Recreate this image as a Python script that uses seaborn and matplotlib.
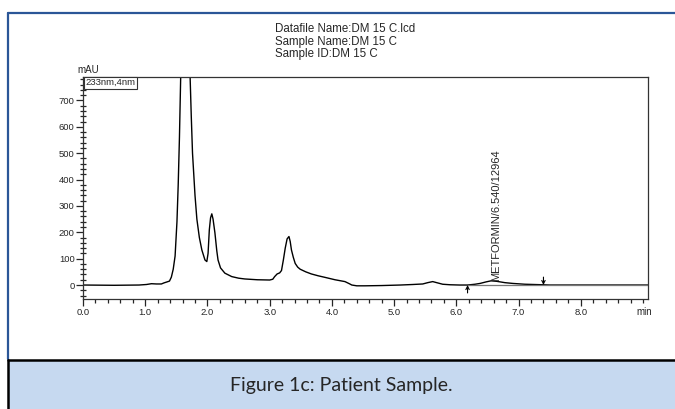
import matplotlib
matplotlib.use("Agg")
import matplotlib.pyplot as plt
import seaborn as sns
from matplotlib.ticker import MultipleLocator, FixedLocator
from matplotlib.lines import Line2D
from matplotlib.patches import Rectangle

# ---- data ----
time_min = [0.00, 0.50, 0.90, 1.02, 1.10, 1.18, 1.26, 1.30, 1.34, 1.39, 1.42, 1.45,
            1.48, 1.51, 1.53, 1.55, 1.57, 1.60, 1.645, 1.69, 1.72, 1.74, 1.76, 1.80,
            1.83, 1.87, 1.91, 1.96, 1.99, 2.01, 2.03, 2.05, 2.07, 2.09, 2.12, 2.15,
            2.17, 2.21, 2.28, 2.39, 2.50, 2.60, 2.80, 3.00, 3.05, 3.08, 3.12, 3.16,
            3.19, 3.22, 3.25, 3.28, 3.31, 3.33, 3.35, 3.38, 3.41, 3.45, 3.49, 3.58,
            3.67, 3.78, 3.89, 4.05, 4.21, 4.28, 4.32, 4.40, 4.53, 4.80, 5.10, 5.30,
            5.46, 5.54, 5.62, 5.70, 5.78, 5.90, 6.05, 6.18, 6.30, 6.38, 6.48, 6.56,
            6.65, 6.78, 6.91, 7.10, 7.39, 7.50, 9.08]
signal_mau = [0, -1, 0, 2, 5, 4, 4, 8, 11, 15, 30, 60,
              110, 240, 380, 560, 790, 1100, 1250, 1100, 800, 640, 500, 340,
              250, 180, 133, 95, 89, 120, 209, 255, 270, 250, 198, 130,
              95, 65, 45, 32, 26, 23, 20, 19, 22, 32, 42, 46,
              55, 95, 140, 175, 184, 165, 133, 105, 82, 68, 60, 50,
              42, 35, 29, 20, 13, 5, 0, -3, -3, -2, 0, 2,
              4, 9, 13, 8, 3, 1, 0, 0, 3, 6, 12, 16,
              14, 9, 6, 3, 1, 0, 0]

x_ticks = [0, 1, 2, 3, 4, 5, 6, 7, 8]
x_tick_labels = ["0.0", "1.0", "2.0", "3.0", "4.0", "5.0", "6.0", "7.0", "8.0"]
y_ticks = [0, 100, 200, 300, 400, 500, 600, 700]

header_lines = ["Datafile Name:DM 15 C.lcd", "Sample Name:DM 15 C", "Sample ID:DM 15 C"]
peak_label = "METFORMIN/6.540/12964"
peak_time, peak_height = 6.54, 16
integ_start, integ_end = 6.18, 7.40
caption = "Figure 1c: Patient Sample."

# ---- figure ----
sns.set_style("white")
plt.rcParams["font.family"] = ["Liberation Sans", "DejaVu Sans"]

W, H = 675, 409
fig = plt.figure(figsize=(W / 100, H / 100), dpi=100)
fig.patch.set_facecolor("white")

def fx(px):
    return px / W

def fy(py):
    return 1 - py / H

ax = fig.add_axes([fx(83), fy(299), fx(648) - fx(83), fy(77) - fy(299)])
sns.lineplot(x=time_min, y=signal_mau, ax=ax, color="black", lw=1.0,
             sort=False, estimator=None)
ax.set_xlim(0, 9.08)
ax.set_ylim(-53, 789)

for s in ax.spines.values():
    s.set_color("#333333")
    s.set_linewidth(0.9)

ax.xaxis.set_major_locator(FixedLocator(x_ticks))
ax.set_xticklabels(x_tick_labels)
ax.xaxis.set_minor_locator(MultipleLocator(0.2))
ax.yaxis.set_major_locator(FixedLocator(y_ticks))
ax.yaxis.set_minor_locator(MultipleLocator(20))
ax.tick_params(axis="x", which="major", direction="out", length=5, width=0.9,
               labelsize=6.8, pad=1.5, bottom=True)
ax.tick_params(axis="x", which="minor", direction="out", length=3, width=0.9, bottom=True)
ax.tick_params(axis="y", which="major", direction="out", length=5, width=0.9,
               labelsize=6.8, pad=1, left=True)
ax.tick_params(axis="y", which="minor", direction="inout", length=4, width=0.9, left=True)
ax.set_xlabel("")
ax.set_ylabel("")

# axis unit labels
fig.text(fx(77), fy(70), "mAU", fontsize=7, ha="left", va="center")
fig.text(fx(636), fy(312), "min", fontsize=7, ha="left", va="center")

# wavelength box
ax.text(0.004, 0.995, "233nm,4nm", transform=ax.transAxes, fontsize=6.8,
        ha="left", va="top",
        bbox=dict(boxstyle="square,pad=0.15", fc="white", ec="#333333", lw=0.8))

# integration baseline and markers
ax.plot([integ_start, 9.08], [0, 0], color="#777777", lw=0.9)
ax.annotate("", xy=(integ_start, 0), xytext=(integ_start, -30),
            arrowprops=dict(arrowstyle="->", color="black", lw=0.8, mutation_scale=6,
                            shrinkA=0, shrinkB=0))
ax.annotate("", xy=(integ_end, 0), xytext=(integ_end, 30),
            arrowprops=dict(arrowstyle="->", color="black", lw=0.8, mutation_scale=6,
                            shrinkA=0, shrinkB=0))
ax.text(peak_time + 0.02, peak_height, peak_label, rotation=90, fontsize=8,
        ha="left", va="bottom")

# header text
for i, line in enumerate(header_lines):
    fig.text(fx(275), fy(29 + 12.5 * i), line, fontsize=8.3, ha="left", va="center")

# frame decorations
blue = "#2b5697"
fig.add_artist(Line2D([fx(8), fx(675)], [fy(12.5), fy(12.5)], color=blue, lw=1.6,
                      transform=fig.transFigure))
fig.add_artist(Line2D([fx(7.5), fx(7.5)], [fy(12.5), fy(359)], color=blue, lw=1.6,
                      transform=fig.transFigure))
fig.add_artist(Rectangle((fx(7.5), 0), 1 - fx(7.5), fy(360), transform=fig.transFigure,
                         fc="#c6d9f0", ec="none"))
fig.add_artist(Line2D([fx(7.5), fx(675)], [fy(360), fy(360)], color="black", lw=1.8,
                      transform=fig.transFigure))
fig.add_artist(Line2D([fx(7.5), fx(7.5)], [fy(360), 0], color="black", lw=1.8,
                      transform=fig.transFigure))
fig.text(fx(341), fy(385), caption, fontsize=14, ha="center", va="center",
         family=["Lato", "DejaVu Sans"])

fig.savefig("out.png", dpi=100)
